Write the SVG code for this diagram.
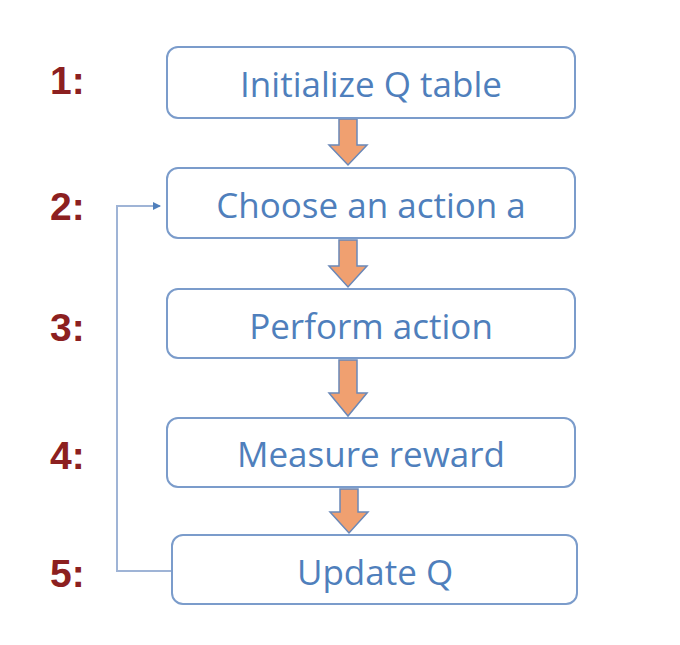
<svg xmlns="http://www.w3.org/2000/svg" width="680" height="645" viewBox="0 0 680 645">
<defs>
<style>
.box{fill:#fff;stroke:#7b9ccb;stroke-width:2}
.t{font-family:"Open Sans","Noto Sans",sans-serif;font-size:35px;fill:#4f7fbc;text-anchor:middle;dominant-baseline:central}
.n{font-family:"Liberation Sans",Arial,sans-serif;font-weight:bold;font-size:39px;fill:#8c2020}
.ba{fill:#f0a070;stroke:#6a88b8;stroke-width:1.5}
.fb{fill:none;stroke:#9fb4d6;stroke-width:2}
</style>
<marker id="ah" markerWidth="8" markerHeight="8" refX="7" refY="4" orient="auto" markerUnits="userSpaceOnUse">
<path d="M0,0 L8,4 L0,8 Z" fill="#4f7fbc"/>
</marker>
</defs>
<rect width="680" height="645" fill="#fff"/>
<g id="labels">
<text class="n" x="50" y="94">1:</text>
<text class="n" x="50" y="220">2:</text>
<text class="n" x="50" y="341">3:</text>
<text class="n" x="50" y="469">4:</text>
<text class="n" x="50" y="587">5:</text>
</g>
<g id="connectors">
<path class="fb" d="M172,571 H117 V206 H160" marker-end="url(#ah)"/>
<path class="ba" d="M339,119 H357 V145 H367 L348,165 L329,145 H339 Z"/>
<path class="ba" d="M339,240 H357 V266 H367 L348,287 L329,266 H339 Z"/>
<path class="ba" d="M339,360 H357 V393 H367 L348,416 L329,393 H339 Z"/>
<path class="ba" d="M340,489 H358 V512 H368 L349,533 L330,512 H340 Z"/>
</g>
<g id="n1"><rect class="box" x="167" y="47" width="408" height="71" rx="11"/><text class="t" x="371" y="83">Initialize Q table</text></g>
<g id="n2"><rect class="box" x="167" y="168" width="408" height="70" rx="11"/><text class="t" x="371" y="204">Choose an action a</text></g>
<g id="n3"><rect class="box" x="167" y="289" width="408" height="69" rx="11"/><text class="t" x="371" y="325">Perform action</text></g>
<g id="n4"><rect class="box" x="167" y="418" width="408" height="69" rx="11"/><text class="t" x="371" y="453">Measure reward</text></g>
<g id="n5"><rect class="box" x="172" y="535" width="405" height="69" rx="11"/><text class="t" x="375" y="571">Update Q</text></g>
</svg>
